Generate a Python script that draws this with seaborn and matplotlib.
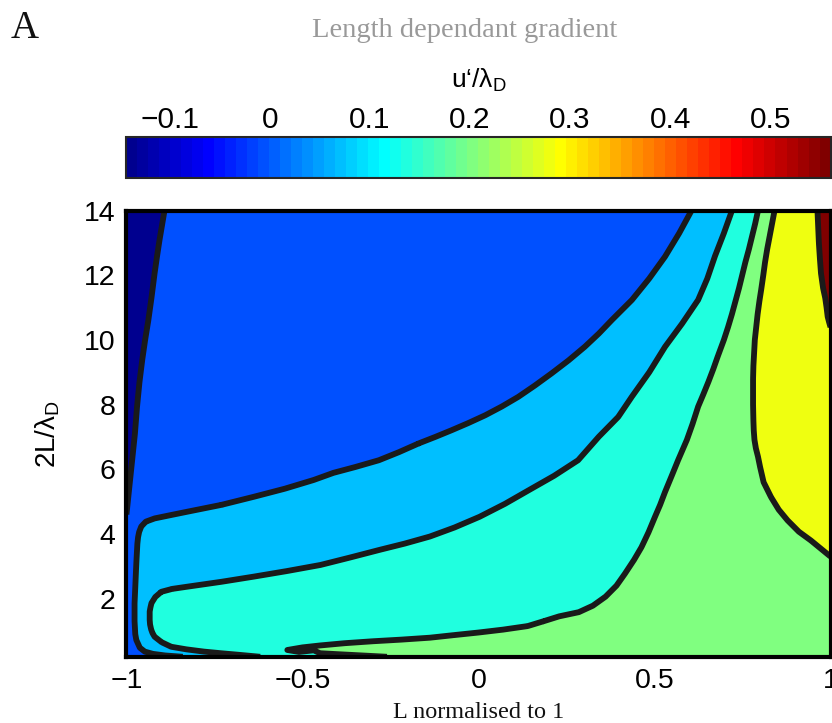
import numpy as np
import matplotlib
matplotlib.use("Agg")
import matplotlib.pyplot as plt
import matplotlib.tri as mtri
from matplotlib.colors import LinearSegmentedColormap, Normalize
from matplotlib.cm import ScalarMappable
from matplotlib.ticker import FuncFormatter
import seaborn as sns

# u'/lambda_D value of each black contour line, and the colour bar range
levels = [-0.003, 0.068, 0.138, 0.208, 0.279, 0.349]
cbar_min, cbar_max = -0.143, 0.56
cbar_ticks = [-0.1, 0, 0.1, 0.2, 0.3, 0.4, 0.5]
x_ticks = [-1, -0.5, 0, 0.5, 1]
y_ticks = [2, 4, 6, 8, 10, 12, 14]

# contour lines (x = L normalised, y = 2L/lambda_D)
c0_x = [-0.892, -0.899, -0.906, -0.913, -0.920, -0.929, -0.938, -0.947, -0.955, -0.963,
        -0.970, -0.976, -0.980, -0.984, -0.987, -0.993, -1.0]
c0_y = [14.0, 13.55, 13.1, 12.6, 12.07, 11.3, 10.6, 10.0, 9.4, 8.7,
        7.93, 7.1, 6.38, 5.9, 5.36, 4.95, 4.6]

c1_x = [0.605, 0.570, 0.530, 0.485, 0.436, 0.379, 0.342, 0.302, 0.256, 0.208,
        0.160, 0.113, 0.066, 0.019, -0.029, -0.076, -0.123, -0.170, -0.226, -0.283,
        -0.350, -0.412, -0.468, -0.55, -0.638, -0.73, -0.826, -0.880,
        -0.920, -0.945, -0.958, -0.964, -0.967, -0.969, -0.970, -0.971, -0.972, -0.973,
        -0.974, -0.975, -0.976, -0.977, -0.977, -0.977, -0.976, -0.975, -0.972, -0.962,
        -0.948, -0.925, -0.89, -0.84]
c1_y = [14.0, 13.3, 12.58, 11.9, 11.24, 10.62, 10.2, 9.79, 9.37, 8.97,
        8.59, 8.24, 7.94, 7.67, 7.43, 7.21, 7.0, 6.80, 6.53, 6.28,
        6.07, 5.89, 5.67, 5.4, 5.15, 4.9, 4.69, 4.57,
        4.48, 4.38, 4.23, 4.06, 3.9, 3.7, 3.5, 3.3, 3.09, 2.85,
        2.6, 2.35, 2.1, 1.85, 1.55, 1.3, 1.1, 0.9, 0.72, 0.48,
        0.36, 0.29, 0.24, 0.2]

c2_x = [0.720, 0.697, 0.672, 0.650, 0.624, 0.578, 0.530, 0.485, 0.436, 0.397,
        0.342, 0.283, 0.215, 0.144, 0.075, 0.003, -0.068, -0.138, -0.21, -0.28,
        -0.365, -0.449, -0.545, -0.638, -0.73, -0.826, -0.870, -0.901, -0.918, -0.929,
        -0.932, -0.934, -0.934, -0.934, -0.933, -0.930, -0.926, -0.920, -0.900, -0.873,
        -0.83, -0.78, -0.732, -0.68, -0.62]
c2_y = [14.0, 13.3, 12.6, 11.9, 11.24, 10.5, 9.79, 9.0, 8.25, 7.62,
        7.01, 6.28, 5.8, 5.36, 4.93, 4.53, 4.2, 3.92, 3.7, 3.51,
        3.27, 3.04, 2.85, 2.68, 2.52, 2.37, 2.3, 2.21, 2.05, 1.86,
        1.72, 1.6, 1.47, 1.34, 1.2, 1.05, 0.93, 0.82, 0.65, 0.51,
        0.43, 0.36, 0.31, 0.26, 0.2]

c3_x = [0.794, 0.786, 0.777, 0.768, 0.758, 0.749, 0.740, 0.730, 0.720, 0.709,
        0.697, 0.680, 0.667, 0.653, 0.638, 0.624, 0.608, 0.592, 0.567, 0.549,
        0.530, 0.516, 0.501, 0.483, 0.463, 0.442, 0.416, 0.392, 0.361, 0.325,
        0.285, 0.229, 0.185, 0.140, 0.07, 0.0, -0.07, -0.138, -0.22, -0.30,
        -0.38, -0.45, -0.50, -0.543, -0.51, -0.45, -0.40, -0.33, -0.26]
c3_y = [14.0, 13.6, 13.2, 12.8, 12.4, 12.0, 11.6, 11.2, 10.8, 10.4,
        10.0, 9.5, 9.1, 8.7, 8.3, 7.94, 7.4, 6.91, 6.28, 5.8,
        5.30, 4.9, 4.52, 4.05, 3.59, 3.2, 2.77, 2.4, 2.06, 1.78,
        1.58, 1.45, 1.3, 1.15, 1.04, 0.95, 0.87, 0.79, 0.73, 0.68,
        0.62, 0.55, 0.49, 0.41, 0.35, 0.31, 0.28, 0.24, 0.2]

c4_x = [0.841, 0.834, 0.827, 0.820, 0.814, 0.809, 0.803, 0.798, 0.793, 0.789,
        0.785, 0.783, 0.781, 0.780, 0.780, 0.780, 0.781, 0.782, 0.784, 0.788,
        0.794, 0.800, 0.810, 0.831, 0.853, 0.878, 0.910, 0.944, 0.972, 1.0]
c4_y = [14.0, 13.6, 13.2, 12.8, 12.4, 12.0, 11.55, 11.2, 10.8, 10.4,
        10.0, 9.6, 9.2, 8.8, 8.46, 8.0, 7.5, 7.2, 6.91, 6.65,
        6.39, 6.07, 5.6, 5.14, 4.75, 4.42, 4.07, 3.80, 3.55, 3.30]

c5_x = [0.963, 0.965, 0.967, 0.970, 0.973, 0.979, 0.985, 0.989, 0.992, 0.996, 1.0]
c5_y = [14.0, 13.5, 13.0, 12.5, 12.06, 11.6, 11.3, 10.99, 10.72, 10.55, 10.4]

# field values estimated along the frame of the plot
left_y = [0.2, 1.5, 3.0, 4.0, 14.0]
left_v = [0.03, 0.03, 0.03, 0.02, -0.143]
top_x = [-0.6, 0.0, 0.35, 0.9]
top_v = [0.01, 0.03, 0.05, 0.31]
right_y = [0.2, 1.2, 2.5, 4.0, 5.5, 7.0, 8.5, 9.6, 14.0]
right_v = [0.25, 0.25, 0.26, 0.30, 0.31, 0.32, 0.33, 0.34, 0.45]
bottom_x = [-0.45, 0.1, 0.55]
bottom_v = [0.17, 0.22, 0.23]

# field values estimated inside the coloured bands
inner_x = [-0.90, -0.7, -0.5, 0.0, 0.3, -0.85, -0.4, 0.1,
           -0.7, -0.956, -0.3, 0.2, 0.47, 0.62, -0.85, -0.93, -0.94, -0.955, -0.95, -0.87,
           -0.6, -0.2, 0.2, 0.35, 0.5, 0.67, -0.7, -0.9, -0.88, -0.82, -0.8,
           0.25, 0.05, 0.37, 0.70, 0.743,
           -0.3, -0.47, 0.0, 0.5, 0.7, 0.69, 0.73, 0.797, 0.77, 0.70,
           0.9, 0.9, 0.95, 0.88]
inner_y = [5.0, 8.0, 11.5, 11.0, 12.8, 12.5, 7.0, 9.5,
           3.6, 1.5, 4.8, 7.0, 10.5, 13.0, 4.2, 0.6, 4.0, 3.0, 2.2, 0.36,
           1.5, 2.5, 3.5, 5.5, 8.0, 11.0, 0.5, 1.5, 1.0, 1.9, 0.7,
           1.9, 1.3, 2.9, 12.0, 13.5,
           0.43, 0.42, 0.55, 1.0, 2.5, 6.0, 9.5, 13.0, 11.5, 8.0,
           8.0, 12.0, 5.0, 10.5]
inner_v = [0.02, 0.02, 0.02, 0.03, 0.05, 0.005, 0.04, 0.05,
           0.10, 0.10, 0.10, 0.10, 0.10, 0.10, 0.10, 0.10, 0.09, 0.10, 0.10, 0.10,
           0.17, 0.17, 0.17, 0.17, 0.17, 0.17, 0.17, 0.15, 0.15, 0.16, 0.16,
           0.19, 0.19, 0.19, 0.17, 0.17,
           0.215, 0.212, 0.22, 0.23, 0.24, 0.24, 0.245, 0.25, 0.25, 0.245,
           0.31, 0.31, 0.30, 0.31]

# MATLAB style jet, 64 steps
jet_pos = [0.0, 7 / 63, 23 / 63, 39 / 63, 55 / 63, 1.0]
jet_rgb = [(0, 0, 0.5625), (0, 0, 1), (0, 1, 1), (1, 1, 0), (1, 0, 0), (0.5, 0, 0)]
jet = LinearSegmentedColormap.from_list("matlab_jet", list(zip(jet_pos, jet_rgb)), N=64)
norm = Normalize(cbar_min, cbar_max)

# put all samples together
line_xs = [c0_x, c1_x, c2_x, c3_x, c4_x, c5_x]
line_ys = [c0_y, c1_y, c2_y, c3_y, c4_y, c5_y]
xs = np.concatenate([np.array(lx, float) for lx in line_xs]
                    + [np.full(len(left_y), -1.0), top_x, np.full(len(right_y), 1.0),
                       bottom_x, inner_x])
ys = np.concatenate([np.array(ly, float) for ly in line_ys]
                    + [left_y, np.full(len(top_x), 14.0), right_y,
                       np.full(len(bottom_x), 0.2), inner_y])
zs = np.concatenate([np.full(len(lx), lev) for lx, lev in zip(line_xs, levels)]
                    + [left_v, top_v, right_v, bottom_v, inner_v])

# triangulate in screen proportions so that neighbours are picked sensibly
screen_tri = mtri.Triangulation(xs * 11.0, ys)
tri = mtri.Triangulation(xs, ys, triangles=screen_tri.triangles)

# draw just below each level so samples lying on a line count as the upper band
draw_levels = [lev - 1e-7 for lev in levels]
fill_levels = [-1.0] + draw_levels + [1.0]
band_values = [cbar_min] + levels[:-1] + [cbar_max]
fill_colors = [jet(norm(v)) for v in band_values]

sns.set_theme(style="ticks")
plt.rcParams["font.family"] = ["Liberation Sans", "DejaVu Sans"]
plt.rcParams["mathtext.fontset"] = "custom"
plt.rcParams["mathtext.rm"] = "Liberation Sans"
plt.rcParams["mathtext.it"] = "Liberation Sans:italic"
plt.rcParams["axes.unicode_minus"] = True
plt.rcParams["text.color"] = "black"
plt.rcParams["axes.labelcolor"] = "black"

fig = plt.figure(figsize=(8.32, 7.23), dpi=100)
ax = fig.add_axes([0.152, 0.0916, 0.8462, 0.617])
cax = fig.add_axes([0.152, 0.7538, 0.8462, 0.0567])

ax.tricontourf(tri, zs, levels=fill_levels, colors=fill_colors)
ax.tricontour(tri, zs, levels=draw_levels, colors="k", linewidths=4.2,
              linestyles="solid")

fmt = FuncFormatter(lambda v, p: f"{v:g}".replace("-", "\u2212"))
ax.set_xlim(-1, 1)
ax.set_ylim(0.2, 14)
ax.set_xticks(x_ticks)
ax.set_yticks(y_ticks)
ax.xaxis.set_major_formatter(fmt)
ax.yaxis.set_major_formatter(fmt)
ax.tick_params(direction="in", length=5, width=1.2, top=True, right=True,
               labelsize=20.5, pad=8, colors="black")
for s in ax.spines.values():
    s.set_linewidth(3)
    s.set_color("black")
ax.set_xlabel("L normalised to 1", family="Liberation Serif", fontsize=17.5,
              labelpad=6, color="#111111")
ax.set_ylabel(r"2L/$\mathregular{\lambda_D}$", fontsize=20, labelpad=16)

cb = fig.colorbar(ScalarMappable(norm=norm, cmap=jet), cax=cax,
                  orientation="horizontal", ticks=cbar_ticks)
cax.xaxis.set_major_formatter(fmt)
cax.tick_params(axis="x", direction="in", top=True, bottom=True, labeltop=True,
                labelbottom=False, length=5, width=1, labelsize=21.5, pad=2,
                colors="black")
cb.outline.set_linewidth(1.5)
cax.xaxis.set_label_position("top")
cax.set_xlabel(r"u‘/$\mathregular{\lambda_D}$", fontsize=19, labelpad=13)

fig.text(0.558, 0.9585, "Length dependant gradient", ha="center", va="center",
         color="#999999", fontsize=20.5, family="Liberation Serif")
fig.text(0.030, 0.961, "A", ha="center", va="center", fontsize=28,
         family="Liberation Serif", color="#111111")

fig.savefig("out.png", dpi=100)
